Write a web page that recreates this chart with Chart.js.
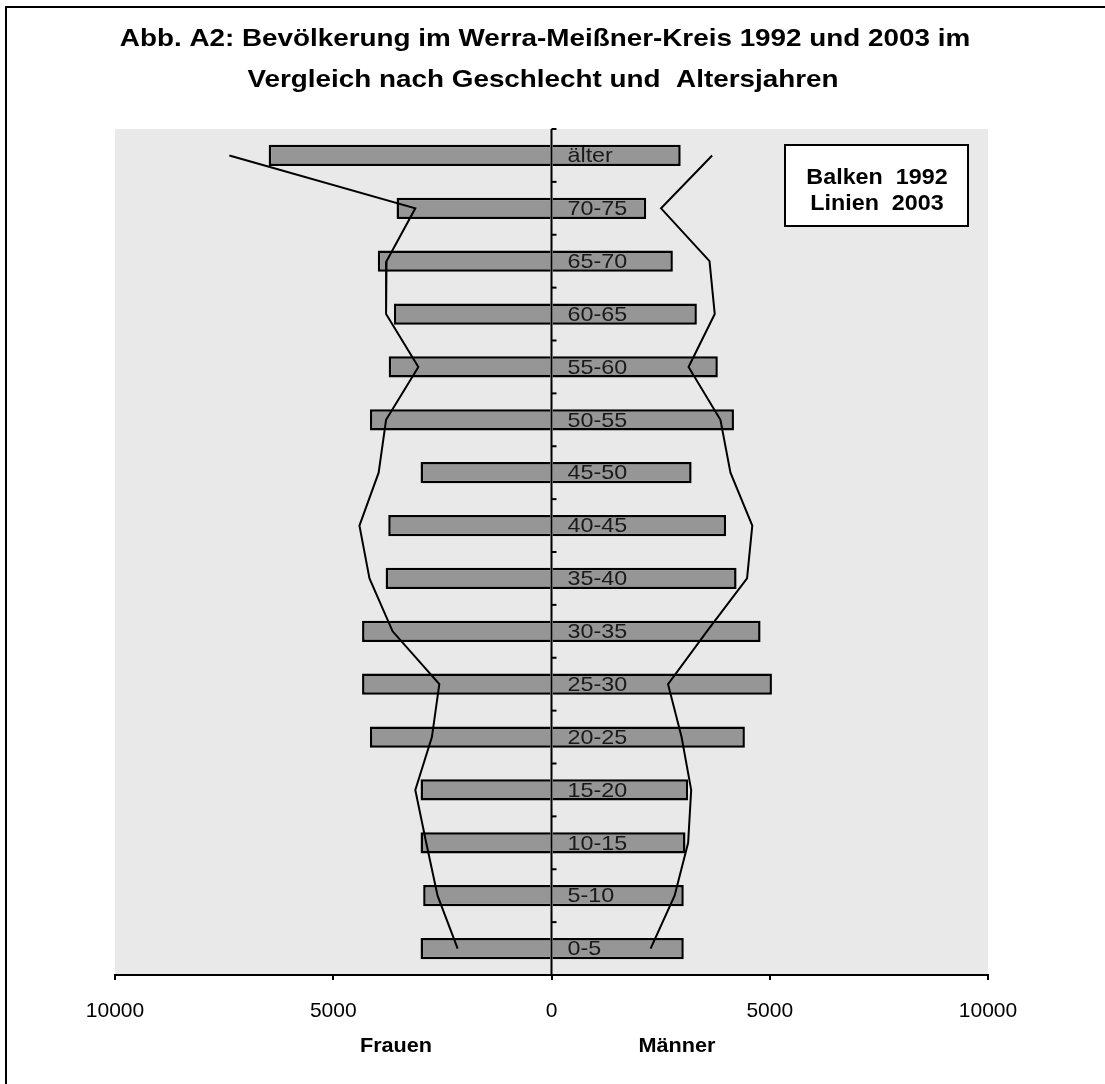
<!DOCTYPE html>
<html>
<head>
<meta charset="utf-8">
<script src="https://cdn.jsdelivr.net/npm/chart.js@4.4.1/dist/chart.umd.min.js"></script>
<style>
  html, body { margin: 0; padding: 0; background: #fff; }
  #wrap { width: 1105px; height: 1084px; position: relative; }
</style>
</head>
<body>
<div id="wrap"><canvas id="myChart" width="1105" height="1084"></canvas></div>
<script>
// age groups, top to bottom
const ageGroups = ['älter', '70-75', '65-70', '60-65', '55-60', '50-55', '45-50', '40-45',
    '35-40', '30-35', '25-30', '20-25', '15-20', '10-15', '5-10', '0-5'];

// 1992 (bars)
const frauen1992 = [6480, 3550, 3980, 3610, 3730, 4160, 3000, 3740, 3800, 4340, 4340, 4160, 3000, 3000, 2940, 3000];
const maenner1992 = [2960, 2170, 2780, 3330, 3810, 4180, 3210, 4000, 4240, 4790, 5050, 4430, 3130, 3070, 3030, 3030];

// 2003 (lines)
const frauen2003 = [7380, 3120, 3780, 3790, 3050, 3790, 3960, 4400, 4170, 3640, 2570, 2740, 3120, 2870, 2610, 2150];
const maenner2003 = [3680, 2510, 3620, 3740, 3140, 3870, 4100, 4600, 4480, 3560, 2670, 2980, 3200, 3130, 2820, 2270];

const xTicks = [-10000, -5000, 0, 5000, 10000];

const titleLines = ['Abb. A2: Bevölkerung im Werra-Meißner-Kreis 1992 und 2003 im',
    'Vergleich nach Geschlecht und  Altersjahren'];

const FONT = "'Liberation Sans', Arial, sans-serif";

// text drawn slightly wider, like the original export
function wideText(ctx, text, x, y, sx) {
    ctx.save();
    ctx.translate(x, y);
    ctx.scale(sx, 1);
    ctx.fillText(text, 0, 0);
    ctx.restore();
}

const decoPlugin = {
    id: 'deco',
    beforeDraw(chart) {
        const ctx = chart.ctx;
        const a = chart.chartArea;
        ctx.save();
        ctx.fillStyle = '#fff';
        ctx.fillRect(0, 0, chart.width, chart.height);
        // outer frame (left + top)
        ctx.strokeStyle = '#000';
        ctx.lineWidth = 2;
        ctx.beginPath();
        ctx.moveTo(6, chart.height + 2);
        ctx.lineTo(6, 7);
        ctx.lineTo(chart.width + 2, 7);
        ctx.stroke();
        // plot background
        ctx.fillStyle = '#e9e9e9';
        ctx.fillRect(a.left, a.top, a.right - a.left, a.bottom - a.top);
        // title
        ctx.fillStyle = '#000';
        ctx.font = 'bold 24px ' + FONT;
        ctx.textAlign = 'center';
        ctx.textBaseline = 'alphabetic';
        wideText(ctx, titleLines[0], 545, 46, 1.16);
        wideText(ctx, titleLines[1], 543, 87, 1.16);
        ctx.restore();
    },
    afterDatasetsDraw(chart) {
        const ctx = chart.ctx;
        const a = chart.chartArea;
        const xs = chart.scales.x;
        const ys = chart.scales.y;
        const x0 = xs.getPixelForValue(0);
        ctx.save();
        // centre axis
        ctx.strokeStyle = '#000';
        ctx.lineWidth = 2;
        ctx.beginPath();
        ctx.moveTo(x0, a.top);
        ctx.lineTo(x0, a.bottom);
        ctx.stroke();
        // minor ticks at category boundaries
        const step = (a.bottom - a.top) / ageGroups.length;
        for (let i = 0; i < ageGroups.length; i++) {
            const y = ys.getPixelForValue(i) - step / 2;
            ctx.beginPath();
            ctx.moveTo(x0, y);
            ctx.lineTo(x0 + 5, y);
            ctx.stroke();
        }
        // category labels next to the axis
        ctx.fillStyle = '#1a1a1a';
        ctx.font = '21px ' + FONT;
        ctx.textAlign = 'left';
        ctx.textBaseline = 'middle';
        ageGroups.forEach((g, i) => {
            wideText(ctx, g, x0 + 16, ys.getPixelForValue(i) + 1, 1.11);
        });
        // legend box
        ctx.fillStyle = '#fff';
        ctx.fillRect(785, 145, 183, 81);
        ctx.strokeRect(785, 145, 183, 81);
        ctx.fillStyle = '#000';
        ctx.font = 'bold 22px ' + FONT;
        ctx.textAlign = 'center';
        wideText(ctx, 'Balken  1992', 877, 178, 1.06);
        wideText(ctx, 'Linien  2003', 877, 204, 1.06);
        // side labels under the axis
        ctx.font = 'bold 21px ' + FONT;
        wideText(ctx, 'Frauen', 396, 1046, 1.03);
        wideText(ctx, 'Männer', 677, 1046, 1.03);
        ctx.restore();
    }
};

const ctx = document.getElementById('myChart').getContext('2d');
const myChart = new Chart(ctx, {
    type: 'bar',
    data: {
        labels: ageGroups,
        datasets: [
            {
                type: 'line',
                label: 'Frauen 2003',
                data: frauen2003.map(v => -v),
                borderColor: '#000',
                borderWidth: 2,
                pointRadius: 0,
                tension: 0,
                fill: false
            },
            {
                type: 'line',
                label: 'Männer 2003',
                data: maenner2003,
                borderColor: '#000',
                borderWidth: 2,
                pointRadius: 0,
                tension: 0,
                fill: false
            },
            {
                label: 'Frauen 1992',
                data: frauen1992.map(v => -v),
                backgroundColor: '#969696',
                borderColor: '#000',
                borderWidth: 2.5,
                grouped: false,
                barPercentage: 0.4,
                categoryPercentage: 1
            },
            {
                label: 'Männer 1992',
                data: maenner1992,
                backgroundColor: '#969696',
                borderColor: '#000',
                borderWidth: 2.5,
                grouped: false,
                barPercentage: 0.4,
                categoryPercentage: 1
            }
        ]
    },
    options: {
        indexAxis: 'y',
        responsive: false,
        animation: false,
        devicePixelRatio: 1,
        layout: {
            padding: { left: 115, right: 117, top: 129, bottom: 0 }
        },
        scales: {
            x: {
                type: 'linear',
                min: -10000,
                max: 10000,
                afterBuildTicks: scale => {
                    scale.ticks = xTicks.map(v => ({ value: v }));
                },
                afterFit: scale => { scale.height = 109; },
                ticks: {
                    callback: v => String(Math.abs(v)),
                    color: '#000',
                    font: { family: FONT, size: 21 },
                    padding: 19,
                    maxRotation: 0
                },
                grid: {
                    drawOnChartArea: false,
                    color: '#000',
                    tickColor: '#000',
                    lineWidth: 2,
                    tickLength: 5
                },
                border: { display: true, color: '#000', width: 2 }
            },
            y: {
                type: 'category',
                display: false,
                offset: true
            }
        },
        plugins: {
            legend: { display: false },
            tooltip: { enabled: false },
            title: { display: false }
        }
    },
    plugins: [decoPlugin]
});
</script>
</body>
</html>
